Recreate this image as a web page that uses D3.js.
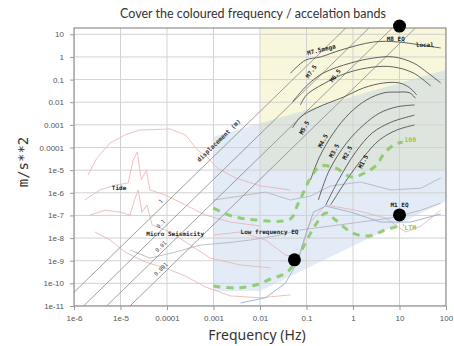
<!DOCTYPE html>
<html><head><meta charset="utf-8">
<script src="https://cdn.jsdelivr.net/npm/d3@7/dist/d3.min.js"></script>
<style>body{margin:0;background:#fff}svg{display:block}</style>
</head><body><svg id="c" width="454" height="346"></svg>
<script>
// ---------- data ----------
const title = "Cover the coloured frequency / accelation bands";
const xLabel = "Frequency (Hz)";
const yLabel = "m/s**2";
const xTicks = [1e-6,1e-5,1e-4,1e-3,0.01,0.1,1,10,100];
const xTickLabels = ["1e-6","1e-5","0.0001","0.001","0.01","0.1","1","10","100"];
const yTicks = [1e-11,1e-10,1e-9,1e-8,1e-7,1e-6,1e-5,1e-4,1e-3,0.01,0.1,1,10];
const yTickLabels = ["1e-11","1e-10","1e-9","1e-8","1e-7","1e-6","1e-5","0.0001","0.001","0.01","0.1","1","10"];

// shaded bands [freq, accel]
const yellowBand = [[0.01,1e-5],[100,1e-5],[100,19],[0.01,19]];
const blueBand = [[1e-3,3e-4],[100,0.27],[100,4.3e-7],[0.01,4.6e-11],[1e-3,4.6e-11]];

// constant displacement lines (m)
const dispLabels = ["1","0.1","0.01","0.001"];
const dispStart = [[1e-6,4e-11],[1.6e-6,1e-11],[5e-6,1e-11],[1.6e-5,1e-11]];
const dispEnd = [[0.7,19],[2.2,19],[7,19],[22,19]];
const dispLabelPts = [[8.7e-5,3e-7],[8.7e-5,3e-8],[8.7e-5,3e-9],[8.7e-5,3e-10]];
const dispTitle = "displacement (m)";
const dispTitlePt = [1.4e-3,1.75e-4];

// earthquake spectra
const eqMega = [[0.045,0.19],[0.095,0.72],[0.2,1],[0.54,2],[2.8,4.6],[9.1,4.6],[41,3],[77,2.5]];
const eqM75 = [[0.05,0.0103],[0.105,0.058],[0.23,0.195],[0.89,0.54],[2.8,0.9],[7.5,1],[20,0.54],[41,0.195],[77,0.071]];
const eqM65 = [[0.074,0.0076],[0.1,0.021],[0.23,0.064],[0.73,0.195],[2.8,0.36],[7.5,0.36],[20,0.195],[47,0.052]];
const eqM55 = [[0.05,7.3e-4],[0.074,0.0022],[0.164,0.0056],[0.63,0.017],[1.69,0.043],[4.6,0.071],[10,0.071],[16.6,0.043],[23.5,0.021]];
const eqM45 = [[0.122,3.7e-6],[0.19,3.8e-5],[0.38,4.4e-4],[0.85,0.0033],[1.96,0.0126],[4.6,0.026],[8.7,0.028],[16.6,0.026],[22,0.015]];
const eqM35 = [[0.18,4.8e-7],[0.31,1e-5],[0.73,1.6e-4],[1.69,9.9e-4],[3.7,0.0033],[8.7,0.0062],[21,0.0076]];
const eqM25 = [[0.26,2.9e-7],[0.49,3.7e-6],[1.14,6.3e-5],[2.6,4.4e-4],[6.5,0.0013],[21,0.0027]];
const eqM15 = [[0.33,2.9e-7],[0.73,3.7e-6],[1.69,3.8e-5],[3.7,2.15e-4],[8.7,5.9e-4],[21,9.9e-4]];

// noise curves
const pink1 = [[2.0e-6,6.1e-6],[3.1e-6,3.4e-5],[6.0e-6,1.6e-4],[1.26e-5,3.6e-4],[2.6e-5,5.9e-4],[1.17e-4,6.6e-4],[2.5e-4,3.6e-4],[4.5e-4,7.8e-5],[7.3e-4,3.8e-5],[1.2e-3,1.24e-5],[3.0e-3,4.5e-6],[0.0102,2.0e-6],[0.045,1.33e-6]];
const pink2 = [[1.7e-6,4.8e-7],[3.6e-6,1.33e-6],[7.7e-6,2.2e-6],[1.46e-5,2.7e-6],[1.87e-5,2.8e-5],[2.3e-5,6.3e-5],[2.8e-5,3.7e-6],[3.6e-5,1.0e-5],[4.3e-5,1.33e-6],[9.1e-5,8.0e-7],[2.5e-4,2.9e-7],[6.7e-4,1.04e-7],[2.3e-3,5.1e-8],[0.0102,3.4e-8]];
const pink3 = [[2.2e-6,1.04e-7],[4.7e-6,1.7e-7],[9.8e-6,1.4e-7],[1.6e-5,1.04e-7],[2.0e-5,4.8e-7],[2.4e-5,1.33e-6],[2.9e-5,1.4e-7],[3.7e-5,2.9e-7],[4.8e-5,3.8e-8],[1.17e-4,1.86e-8],[3.2e-4,4.9e-9],[8.5e-4,1.3e-9],[3.8e-3,6.5e-10],[0.0168,4.8e-10]];
const pink4 = [[2.8e-6,1.86e-8],[6.0e-6,8.2e-9],[1.26e-5,2.4e-9],[3.4e-5,8.8e-10],[9.1e-5,4.8e-10],[2.5e-4,2.1e-10],[6.7e-4,6.9e-11],[2.3e-3,2.8e-11],[0.0102,2.3e-11],[0.045,3.1e-11]];
const pink5 = [[1e-3,1.37e-8],[3.8e-3,1.86e-8],[0.0131,8.2e-9],[0.035,1.8e-9],[0.067,1.3e-9],[0.122,5.1e-8],[0.26,2.9e-7],[1.14,1.7e-7],[5.0,7.7e-8],[13.6,1.86e-8],[28.7,3.4e-8],[77,1.7e-7]];
const grey1 = [[1.6e-5,3.0e-9],[4.3e-5,1.3e-9],[1.5e-4,2.4e-9],[5.2e-4,4.9e-9],[1.8e-3,6.1e-9],[6.2e-3,8.2e-9],[0.0215,1.24e-8],[0.074,2.3e-8],[0.33,3.4e-8],[1.46,5.1e-8],[6.5,7.7e-8],[28.7,1.7e-7],[77,3.5e-7]];
const grey2 = [[1e-3,4.8e-7],[3.8e-3,7.2e-7],[0.0131,1.08e-6],[0.045,4.8e-7],[0.122,7.2e-7],[0.33,2.0e-6],[1.46,3.0e-6],[6.5,1.33e-6],[28.7,1.6e-6],[77,4.5e-6]];
const grey3 = [[3.8e-3,1.36e-11],[0.0131,2.3e-11],[0.035,1.0e-10],[0.064,8.8e-10],[0.095,1.37e-8],[0.141,1.4e-7],[0.26,2.6e-7],[0.89,1.4e-7],[3.9,5.1e-8],[17.4,5.1e-8],[77,1.16e-7]];

// green dashed models
const green100 = [[1e-3,2.1e-7],[2.5e-3,9.4e-8],[8.0e-3,6.3e-8],[0.045,7.0e-8],[0.064,2.9e-7],[0.091,1.33e-6],[0.128,5.5e-6],[0.2,1.5e-5],[0.42,1.24e-5],[0.93,5.0e-6],[1.96,8.3e-6],[3.2,1.7e-5],[4.6,5.2e-5],[7.5,1.3e-4],[11.7,1.75e-4]];
const greenLTM = [[1e-3,7.6e-11],[3.0e-3,6.2e-11],[8.0e-3,8.5e-11],[0.0168,1.56e-10],[0.039,3.2e-10],[0.074,2.4e-9],[0.156,3.8e-8],[0.26,1.28e-7],[0.42,6.3e-8],[0.98,1.67e-8],[2.17,1.24e-8],[5.0,2.3e-8],[12.3,3.8e-8]];

// big markers
const dots = [[10,23],[0.055,1.1e-9],[10,1.05e-7]];

// annotations [text, freq, accel]
const eqLabelText = ["M7.5mega","M7.5","M6.5","M5.5","M4.5","M3.5","M2.5","M1.5"];
const eqLabelPts = [[0.21,2.0],[0.128,0.22],[0.42,0.144],[0.091,7.3e-4],[0.23,1.9e-4],[0.4,7e-5],[0.77,5.7e-5],[1.69,2.3e-5]];
const noteText = ["M8 EQ","local","M1 EQ","Tide","Micro Seismicity","Low frequency EQ"];
const notePts = [[8.3,6.2],[35,3.4],[10,2.9e-7],[9.3e-6,1.6e-6],[1.5e-4,1.5e-8],[0.016,1.86e-8]];
const greenText = ["100","LTM"];
const greenPts = [[17,2.15e-4],[17,2.8e-8]];

// ---------- drawing ----------
const svg = d3.select("#c");
const L=74,R=446,T=28,B=306;
const x = d3.scaleLog().domain([1e-6,100]).range([L,R]);
const y = d3.scaleLog().domain([1e-11,19]).range([B,T]);

svg.append("defs").append("clipPath").attr("id","clip")
  .append("rect").attr("x",L).attr("y",T).attr("width",R-L).attr("height",B-T);
const plot = svg.append("g").attr("clip-path","url(#clip)");

const poly = pts => pts.map(p=>[x(p[0]),y(p[1])].join(",")).join(" ");
plot.append("polygon").attr("points",poly(yellowBand)).attr("fill","#ede7a0").attr("fill-opacity",0.38);
plot.append("polygon").attr("points",poly(blueBand)).attr("fill","#a9c3e6").attr("fill-opacity",0.34);

// grid
plot.selectAll(".gx").data(xTicks).join("line")
  .attr("x1",d=>x(d)).attr("x2",d=>x(d)).attr("y1",T).attr("y2",B)
  .attr("stroke","#d2d2d2").attr("stroke-width",1);
plot.selectAll(".gy").data(yTicks).join("line")
  .attr("y1",d=>y(d)).attr("y2",d=>y(d)).attr("x1",L).attr("x2",R)
  .attr("stroke","#d2d2d2").attr("stroke-width",1);

const lin = d3.line().x(d=>x(d[0])).y(d=>y(d[1]));
const smooth = d3.line().x(d=>x(d[0])).y(d=>y(d[1])).curve(d3.curveCatmullRom.alpha(0.5));

// noise curves
[pink1,pink2,pink3,pink4,pink5].forEach(c=>plot.append("path").attr("d",lin(c))
  .attr("fill","none").attr("stroke","#eab0b0").attr("stroke-width",0.8));
[grey1,grey2].forEach(c=>plot.append("path").attr("d",lin(c))
  .attr("fill","none").attr("stroke","#b0b0ba").attr("stroke-width",0.8));
plot.append("path").attr("d",lin(grey3)).attr("fill","none").attr("stroke","#9aaed0").attr("stroke-width",0.9);

// displacement lines
dispStart.forEach((s,i)=>plot.append("line")
  .attr("x1",x(s[0])).attr("y1",y(s[1])).attr("x2",x(dispEnd[i][0])).attr("y2",y(dispEnd[i][1]))
  .attr("stroke","#888").attr("stroke-width",0.8));
const ang = -44.3;
dispLabelPts.forEach((p,i)=>svg.append("text")
  .attr("transform",`translate(${x(p[0])-2},${y(p[1])-2}) rotate(${ang})`)
  .attr("text-anchor","middle").attr("font-family","DejaVu Sans Mono").attr("font-size",5.5)
  .attr("fill","#444").text(dispLabels[i]));
svg.append("text")
  .attr("transform",`translate(${x(dispTitlePt[0])},${y(dispTitlePt[1])}) rotate(${ang})`)
  .attr("text-anchor","middle").attr("font-family","DejaVu Sans Mono").attr("font-weight","bold")
  .attr("font-size",6).attr("fill","#333").text(dispTitle);

// earthquake curves
[eqMega,eqM75,eqM65,eqM55,eqM45,eqM35,eqM25,eqM15].forEach(c=>plot.append("path").attr("d",smooth(c))
  .attr("fill","none").attr("stroke","#5a5a5a").attr("stroke-width",0.95));

// green dashed
[green100,greenLTM].forEach(c=>plot.append("path").attr("d",smooth(c))
  .attr("fill","none").attr("stroke","#80c556").attr("stroke-width",3)
  .attr("stroke-dasharray","7,6").attr("stroke-opacity",0.8));

// frame
svg.append("rect").attr("x",L).attr("y",T).attr("width",R-L).attr("height",B-T)
  .attr("fill","none").attr("stroke","#7a7a7a").attr("stroke-width",1);

// axes
const xa = d3.axisBottom(x).tickValues(xTicks).tickFormat((d,i)=>xTickLabels[i]).tickSize(4).tickPadding(5);
const ya = d3.axisLeft(y).tickValues(yTicks).tickFormat((d,i)=>yTickLabels[i]).tickSize(4).tickPadding(6);
const gx = svg.append("g").attr("transform",`translate(0,${B})`).call(xa);
const gy = svg.append("g").attr("transform",`translate(${L},0)`).call(ya);
[gx,gy].forEach(g=>{
  g.select(".domain").remove();
  g.selectAll("line").attr("stroke","#999");
  g.selectAll("text").attr("fill","#555").attr("font-family","Liberation Sans").attr("font-size",8);
});

// labels on EQ curves
const eqRot = [-14,-55,-55,-62,-62,-62,-62,-62];
eqLabelText.forEach((t,i)=>svg.append("text")
  .attr("transform",`translate(${x(eqLabelPts[i][0])},${y(eqLabelPts[i][1])}) rotate(${eqRot[i]})`)
  .attr("text-anchor","middle").attr("dominant-baseline","middle")
  .attr("font-family","DejaVu Sans Mono").attr("font-weight","bold").attr("font-size",6)
  .attr("fill","#222").text(t));
noteText.forEach((t,i)=>svg.append("text")
  .attr("x",x(notePts[i][0])).attr("y",y(notePts[i][1])).attr("text-anchor","middle")
  .attr("dominant-baseline","middle")
  .attr("font-family","DejaVu Sans Mono").attr("font-weight","bold").attr("font-size",6)
  .attr("fill","#222").text(t));
greenText.forEach((t,i)=>svg.append("text")
  .attr("x",x(greenPts[i][0])).attr("y",y(greenPts[i][1])).attr("text-anchor","middle")
  .attr("dominant-baseline","middle")
  .attr("font-family","DejaVu Sans Mono").attr("font-weight","bold").attr("font-size",6.5)
  .attr("fill","#8cc864").text(t));

// dots
svg.selectAll(".dot").data(dots).join("circle")
  .attr("cx",d=>x(d[0])).attr("cy",d=>y(d[1])).attr("r",6.5).attr("fill","#000");

// titles
svg.append("text").attr("x",253).attr("y",18).attr("text-anchor","middle")
  .attr("font-family","Lato").attr("font-size",12.5).attr("fill","#333").text(title);
svg.append("text").attr("x",257).attr("y",340).attr("text-anchor","middle")
  .attr("font-family","Noto Sans").attr("font-size",14).attr("fill","#333").text(xLabel);
svg.append("text").attr("transform","translate(28,162) rotate(-90)").attr("text-anchor","middle")
  .attr("font-family","DejaVu Sans Mono").attr("font-size",14).attr("fill","#333").text(yLabel);
</script></body></html>
